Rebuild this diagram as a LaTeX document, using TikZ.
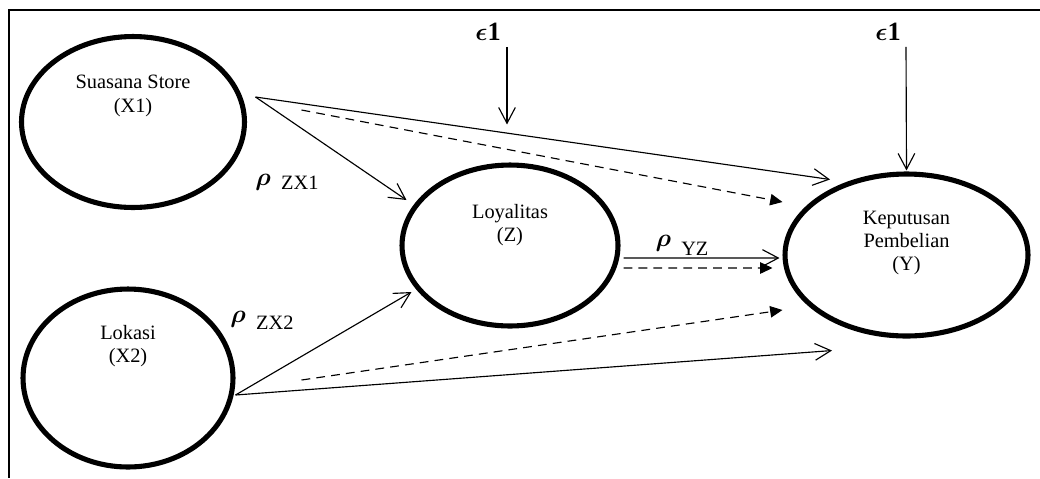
\documentclass[tikz,border=0pt]{standalone}
\usepackage{fontspec}
\usepackage{amsmath}
\setmainfont{Liberation Serif}
\usetikzlibrary{arrows.meta,shapes.geometric}

\tikzset{
  latent/.style={draw, ellipse, line width=2.9pt, inner sep=0pt},
  vartext/.style={align=center, font={\fontsize{11.6}{13.2}\selectfont}},
  coef/.style={font={\fontsize{11.6}{13}\selectfont}, inner sep=1pt},
  errterm/.style={font={\fontsize{15}{17}\selectfont}, inner sep=1pt},
  direct/.style={line width=0.65pt, -{Straight Barb[length=9pt,width=9.5pt]}},
  indirect/.style={line width=0.65pt, dash pattern=on 5pt off 3.5pt, -{Triangle[length=7pt,width=6.5pt]}},
}
\newcommand{\rhosym}{{\fontsize{13.5}{13.5}\selectfont$\boldsymbol{\rho}$}}

\begin{document}
\begin{tikzpicture}[x=0.02cm, y=-0.02cm]

\useasboundingbox (0,0) rectangle (1040,478);

% frame
\draw [line width=0.8pt] (1040,10) -- (9,10) -- (9,478);

% variables
\node [latent, minimum width=4.46cm, minimum height=3.42cm] (x1) at (133,122) {};
\node [latent, minimum width=4.2cm, minimum height=3.56cm] (x2) at (128,378) {};
\node [latent, minimum width=4.32cm, minimum height=3.22cm] (z) at (510,245.5) {};
\node [latent, minimum width=4.86cm, minimum height=3.24cm] (y) at (906.5,255) {};

\node [vartext] (x1-text) at (133,96) {Suasana Store\\(X1)};
\node [vartext] (x2-text) at (128,346) {Lokasi\\(X2)};
\node [vartext] (z-text) at (510,225) {Loyalitas\\(Z)};
\node [vartext] (y-text) at (906.5,243) {Keputusan\\Pembelian\\(Y)};

% error terms
\node [errterm] (e1) at (488,32) {$\boldsymbol{\epsilon}\mathbf{1}$};
\node [errterm] (e2) at (888,32) {$\boldsymbol{\epsilon}\mathbf{1}$};

% path coefficients
\node [coef] (rho-zx1) at (287,182) {\raisebox{2.5pt}{\rhosym}\ \ ZX1};
\node [coef] (rho-zx2) at (262,320) {\raisebox{4pt}{\rhosym}\ \ ZX2};
\node [coef] (rho-yz) at (682,245) {\raisebox{5pt}{\rhosym}\ \ YZ};

% direct paths
\draw [direct] ([shift={(8.5,-25)}]x1.east) -- ([shift={(7,-45.5)}]z.west);
\draw [direct] ([shift={(8.5,-25)}]x1.east) -- ([shift={(-76.5,8)}]y.north);
\draw [direct] ([shift={(0,17)}]x2.east) -- ([shift={(12,46.5)}]z.west);
\draw [direct] ([shift={(0,17)}]x2.east) -- ([shift={(-74.5,12)}]y.south);
\draw [direct] ([shift={(3,12.5)}]z.east) -- ([shift={(-3,3)}]y.west);

% indirect paths
\draw [indirect] ([shift={(54.5,-12)}]x1.east) -- ([shift={(0,-53)}]y.west);
\draw [indirect] ([shift={(66,2)}]x2.east) -- ([shift={(0,55)}]y.west);
\draw [indirect] ([shift={(3,22.5)}]z.east) -- ([shift={(-10,13)}]y.west);

% errors
\draw [direct] ([shift={(19,4)}]e1.south) -- ([shift={(-3,-38)}]z.north);
\draw [direct] ([shift={(18,4)}]e2.south) -- ([shift={(0,-1)}]y.north);

\end{tikzpicture}
\end{document}
